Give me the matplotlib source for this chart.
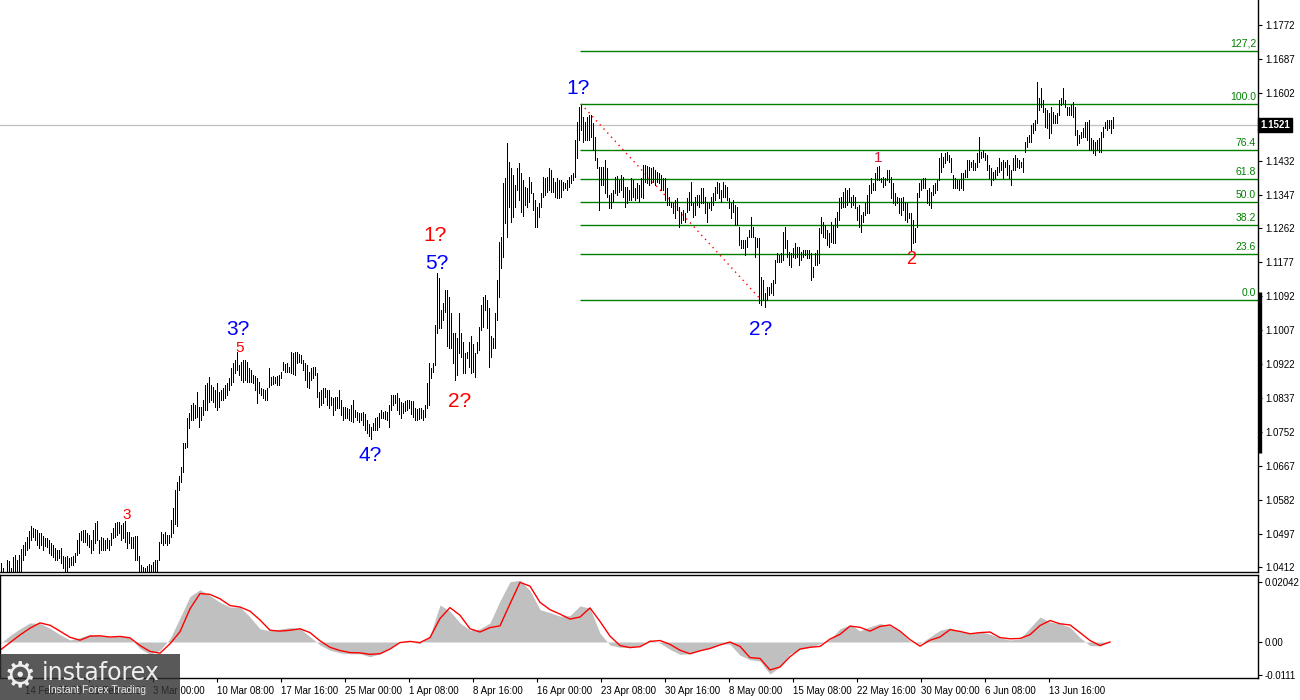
import matplotlib
matplotlib.use('Agg')
import matplotlib.pyplot as plt
import numpy as np

plt.rcParams['font.family'] = ['Liberation Sans', 'DejaVu Sans']

# EURUSD H4 bars, high / low in pips (1e-4)
hi_feb = [10424, 10411, 10401, 10431, 10429, 10411, 10438, 10443, 10431, 10443,
          10458, 10468, 10476, 10488, 10503, 10516, 10511, 10508, 10506, 10498,
          10498, 10491, 10486, 10486, 10481, 10473, 10468, 10461, 10456, 10456,
          10461, 10441, 10438, 10441, 10436, 10438, 10441, 10448, 10481, 10498,
          10503, 10506, 10506, 10498, 10493, 10481, 10506, 10523, 10528, 10481,
          10488, 10486, 10481, 10486, 10481, 10498, 10511, 10523, 10526, 10526,
          10518, 10523, 10528, 10501, 10501, 10488, 10488, 10491, 10491, 10441,
          10418, 10413, 10411, 10416, 10421, 10418, 10426, 10431, 10431, 10476,
          10501, 10496, 10501, 10493, 10493, 10531, 10561, 10607, 10627, 10640,
          10665, 10725, 10725, 10787, 10800, 10820, 10825, 10820, 10852, 10815,
          10815, 10832, 10870, 10875, 10890, 10870, 10865, 10857, 10875, 10852,
          10857, 10862, 10870, 10875, 10887, 10912, 10925, 10932, 10951]
lo_feb = [10368, 10356, 10351, 10394, 10386, 10381, 10394, 10401, 10394, 10381,
          10394, 10431, 10443, 10456, 10461, 10481, 10488, 10481, 10468, 10461,
          10468, 10456, 10466, 10463, 10448, 10443, 10438, 10431, 10431, 10436,
          10424, 10411, 10401, 10394, 10413, 10418, 10418, 10426, 10443, 10448,
          10481, 10476, 10476, 10468, 10463, 10448, 10456, 10473, 10481, 10448,
          10456, 10456, 10456, 10461, 10456, 10468, 10486, 10488, 10493, 10498,
          10481, 10486, 10476, 10461, 10473, 10461, 10461, 10431, 10431, 10394,
          10381, 10368, 10368, 10381, 10381, 10381, 10394, 10401, 10401, 10431,
          10473, 10468, 10473, 10468, 10473, 10488, 10498, 10521, 10516, 10607,
          10625, 10650, 10712, 10715, 10762, 10782, 10782, 10787, 10790, 10764,
          10782, 10795, 10807, 10807, 10827, 10832, 10827, 10815, 10807, 10815,
          10832, 10832, 10837, 10845, 10857, 10870, 10877, 10900, 10908]

hi_mar = [10920, 10927, 10932, 10932, 10927, 10912, 10907, 10895, 10892, 10887,
          10877, 10862, 10860, 10857, 10862, 10912, 10890, 10892, 10890, 10892,
          10895, 10902, 10927, 10922, 10925, 10915, 10953, 10950, 10953, 10953,
          10948, 10945, 10932, 10925, 10920, 10902, 10912, 10915, 10915, 10900,
          10852, 10857, 10862, 10862, 10857, 10857, 10840, 10837, 10840, 10840,
          10857, 10832, 10815, 10815, 10812, 10810, 10820, 10832, 10807, 10802,
          10800, 10800, 10802, 10797, 10782, 10772, 10765, 10775, 10787, 10790,
          10800, 10807, 10802, 10805, 10802, 10820, 10845, 10845, 10845, 10850,
          10837, 10827, 10825, 10830, 10832, 10832, 10830, 10830, 10812, 10810,
          10812, 10812, 10807, 10820]
lo_mar = [10895, 10882, 10877, 10882, 10877, 10877, 10877, 10875, 10857, 10825,
          10850, 10845, 10837, 10832, 10832, 10865, 10870, 10872, 10875, 10870,
          10870, 10887, 10907, 10902, 10902, 10902, 10900, 10897, 10895, 10925,
          10927, 10925, 10907, 10882, 10865, 10862, 10882, 10887, 10895, 10840,
          10815, 10820, 10825, 10840, 10820, 10812, 10820, 10795, 10807, 10812,
          10812, 10795, 10782, 10787, 10787, 10782, 10780, 10777, 10790, 10782,
          10777, 10782, 10770, 10757, 10750, 10742, 10735, 10757, 10757, 10757,
          10765, 10787, 10787, 10785, 10782, 10765, 10807, 10820, 10825, 10807,
          10797, 10787, 10800, 10805, 10807, 10812, 10797, 10790, 10782, 10782,
          10785, 10787, 10782, 10790]

hi_apr = [10875, 10925, 10912, 10925, 11020, 11150, 11138, 11058, 11075, 11108,
          11108, 11090, 11050, 11000, 11000, 10988, 11050, 11000, 10976, 10950,
          10953, 10978, 10991, 10971, 10950, 10976, 11016, 11071, 11090, 11095,
          11083, 11063, 10991, 10988, 11050, 11133, 11228, 11240, 11376, 11389,
          11477, 11429, 11414, 11396, 11371, 11414, 11426, 11401, 11384, 11366,
          11364, 11391, 11379, 11351, 11334, 11316, 11326, 11351, 11391, 11389,
          11391, 11414, 11409, 11389, 11379, 11389, 11384, 11384, 11379, 11376,
          11384, 11391, 11396, 11401, 11484, 11529, 11566, 11571]
lo_apr = [10812, 10820, 10887, 10902, 10920, 11000, 11013, 11013, 11033, 11053,
          10966, 10963, 10963, 10925, 10882, 10895, 10950, 10940, 10900, 10900,
          10937, 10915, 10900, 10902, 10890, 10950, 10958, 11008, 11016, 11058,
          11013, 10915, 10940, 10963, 10963, 11033, 11090, 11163, 11190, 11276,
          11240, 11316, 11278, 11290, 11316, 11359, 11334, 11302, 11293, 11321,
          11316, 11329, 11351, 11309, 11266, 11266, 11290, 11316, 11341, 11346,
          11354, 11359, 11354, 11354, 11341, 11339, 11339, 11341, 11359, 11364,
          11359, 11366, 11376, 11384, 11391, 11439, 11484, 11509]

hi_may = [11542, 11529, 11542, 11547, 11547, 11526, 11491, 11439, 11416, 11416,
          11416, 11434, 11414, 11346, 11351, 11359, 11391, 11394, 11384, 11396,
          11391, 11366, 11366, 11359, 11389, 11384, 11364, 11376, 11371, 11389,
          11421, 11421, 11419, 11416, 11414, 11416, 11409, 11404, 11401, 11396,
          11389, 11389, 11364, 11341, 11329, 11326, 11334, 11339, 11316, 11304,
          11309, 11301, 11339, 11354, 11379, 11326, 11341, 11346, 11346, 11364,
          11364, 11341, 11329, 11326, 11341, 11351, 11366, 11379, 11376, 11359,
          11379, 11371, 11366, 11339, 11326, 11334, 11321, 11316, 11266, 11233,
          11233, 11233, 11241, 11258, 11290, 11266, 11241, 11238, 11238, 11141,
          11133, 11101, 11116, 11116, 11126, 11133, 11183, 11201, 11196, 11201,
          11253, 11266, 11233, 11203, 11201, 11213, 11226, 11216, 11216, 11203,
          11208, 11208, 11208, 11208, 11201, 11166, 11201, 11208, 11263, 11290,
          11278, 11271, 11258, 11250, 11278, 11271, 11288, 11304, 11339, 11341,
          11354, 11364, 11359, 11364, 11341, 11346, 11341, 11316, 11321, 11296,
          11304, 11326, 11346, 11371, 11389, 11376, 11401, 11416, 11419, 11389]
lo_may = [11479, 11484, 11484, 11484, 11491, 11459, 11434, 11414, 11309, 11371,
          11371, 11351, 11341, 11314, 11314, 11329, 11351, 11346, 11354, 11359,
          11341, 11316, 11326, 11334, 11334, 11341, 11334, 11339, 11329, 11341,
          11339, 11379, 11376, 11371, 11376, 11379, 11371, 11379, 11376, 11359,
          11359, 11334, 11321, 11321, 11316, 11301, 11288, 11309, 11266, 11276,
          11283, 11278, 11304, 11309, 11321, 11290, 11295, 11321, 11316, 11326,
          11326, 11301, 11278, 11314, 11309, 11321, 11334, 11351, 11339, 11329,
          11341, 11341, 11334, 11314, 11288, 11304, 11271, 11271, 11221, 11213,
          11213, 11196, 11216, 11241, 11241, 11241, 11191, 11216, 11076, 11071,
          11083, 11066, 11083, 11096, 11101, 11096, 11126, 11178, 11178, 11178,
          11183, 11213, 11191, 11171, 11166, 11191, 11188, 11191, 11171, 11183,
          11191, 11196, 11188, 11188, 11133, 11141, 11171, 11171, 11176, 11250,
          11241, 11238, 11221, 11216, 11228, 11226, 11226, 11266, 11283, 11314,
          11316, 11316, 11321, 11329, 11316, 11321, 11314, 11283, 11266, 11253,
          11278, 11296, 11301, 11301, 11351, 11359, 11359, 11384, 11384, 11379]

hi_jun = [11391, 11389, 11409, 11409, 11391, 11376, 11351, 11341, 11339, 11339,
          11341, 11329, 11326, 11301, 11301, 11283, 11263, 11351, 11376, 11384,
          11389, 11389, 11359, 11364, 11354, 11371, 11376, 11384, 11439, 11451,
          11441, 11451, 11454, 11446, 11439, 11396, 11389, 11384, 11384, 11401,
          11401, 11409, 11434, 11434, 11429, 11434, 11426, 11451, 11491, 11454,
          11459, 11451, 11446, 11421, 11414, 11404, 11409, 11416, 11439, 11429,
          11434, 11429, 11434, 11421, 11409, 11439, 11446, 11439, 11434, 11429,
          11439, 11479, 11491, 11496, 11521, 11526, 11534, 11629, 11589, 11614,
          11584, 11564, 11559, 11551, 11566, 11554, 11546, 11551, 11584, 11589,
          11614, 11584, 11566, 11566, 11571, 11579, 11566, 11509, 11496, 11504,
          11514, 11529, 11529, 11534, 11489, 11484, 11479, 11484, 11489, 11504,
          11516, 11529, 11534, 11534, 11534, 11541]
lo_jun = [11366, 11371, 11384, 11379, 11339, 11326, 11321, 11326, 11301, 11296,
          11309, 11283, 11278, 11288, 11208, 11226, 11228, 11266, 11341, 11359,
          11364, 11364, 11326, 11321, 11314, 11346, 11351, 11359, 11384, 11404,
          11416, 11426, 11434, 11429, 11404, 11364, 11364, 11364, 11359, 11364,
          11359, 11391, 11391, 11409, 11416, 11409, 11409, 11416, 11429, 11439,
          11441, 11434, 11409, 11389, 11371, 11384, 11389, 11396, 11404, 11409,
          11389, 11416, 11396, 11389, 11371, 11409, 11409, 11416, 11414, 11416,
          11404, 11454, 11466, 11479, 11479, 11501, 11509, 11526, 11559, 11566,
          11554, 11516, 11514, 11489, 11501, 11526, 11526, 11526, 11546, 11571,
          11576, 11566, 11546, 11546, 11546, 11541, 11496, 11471, 11476, 11489,
          11491, 11491, 11484, 11459, 11459, 11451, 11446, 11459, 11454, 11454,
          11491, 11514, 11509, 11514, 11501, 11514]

last_price = 1.1521

# MACD main (histogram) and signal, one value every 5 bars, in 1e-4
macd_hist = [-6, 22, 45, 65, 63, 47, 25, 7, 15, 26,
             22, 17, 23, 14, -22, -42, -28, 11, 82, 155,
             178, 158, 135, 119, 119, 85, 45, 38, 44, 49,
             46, 18, -10, -28, -37, -40, -40, -50, -40, -20,
             2, 1, -6, 22, 126, 105, 65, 40, 45, 65,
             140, 205, 210, 175, 110, 100, 88, 90, 123, 115,
             30, -10, -18, -19, -12, 8, -4, -25, -42, -40,
             -28, -22, -5, -8, -45, -60, -65, -109, -85, -40,
             -25, -18, -6, 8, 45, 59, 38, 52, 63, 55,
             35, 2, -5, 17, 40, 48, 35, 28, 35, 27,
             14, 7, 10, 48, 85, 68, 62, 50, 15, -12,
             -14, 3]
macd_signal = [-28, -2, 24, 47, 65, 57, 37, 16, 6, 20,
               21, 17, 19, 14, -12, -32, -38, -6, 35, 113,
               165, 162, 147, 124, 119, 105, 75, 40, 37, 40,
               45, 32, 4, -18, -29, -36, -37, -42, -40, -24,
               -2, 2, -2, 15, 80, 117, 91, 45, 34, 49,
               55, 130, 203, 190, 135, 110, 95, 78, 85, 116,
               70, 20, -12, -19, -16, 2, 5, -8, -28, -40,
               -30, -22, -10, 0, -15, -53, -56, -95, -85, -50,
               -24, -18, -15, 10, 26, 54, 50, 37, 53, 58,
               37, 8, -14, 6, 17, 42, 36, 28, 32, 34,
               15, 11, 12, 25, 56, 73, 62, 58, 32, 5,
               -12, 0]

# fibonacci grid from wave 1? top to wave 2? bottom
fib_hi, fib_lo = 1.1574, 1.1083
fib_from_bar, fib_to_bar = 290, 380
fib_levels = [0.0, 23.6, 38.2, 50.0, 61.8, 76.4, 100.0, 127.2]
fib_names = ['0.0', '23.6', '38.2', '50.0', '61.8', '76.4', '100.0', '127,2']

# wave marks: bar, price, text, colour, size
waves = [(288.5, 1.1612, '1?', '#0000ff', 15),
         (380, 1.1008, '2?', '#0000ff', 15),
         (118.5, 1.1008, '3?', '#0000ff', 15),
         (184.5, 1.0692, '4?', '#0000ff', 15),
         (218, 1.1173, '5?', '#0000ff', 15),
         (217, 1.1243, '1?', '#ff0000', 15),
         (229.5, 1.0827, '2?', '#ff0000', 15),
         (438.5, 1.1439, '1', '#dc143c', 11),
         (455, 1.1183, '2', '#ff0000', 13),
         (63, 1.0544, '3', '#ff0000', 11),
         (119.5, 1.0963, '5', '#ff0000', 11)]

time_labels = ['7 Feb 00:00', '14 Feb 08:00', '21 Feb 16:00', '3 Mar 00:00',
               '10 Mar 08:00', '17 Mar 16:00', '25 Mar 00:00', '1 Apr 08:00',
               '8 Apr 16:00', '16 Apr 00:00', '23 Apr 08:00', '30 Apr 16:00',
               '8 May 00:00', '15 May 08:00', '22 May 16:00', '30 May 00:00',
               '6 Jun 08:00', '13 Jun 16:00']
first_label_bar = -20
label_every = 32

price_ticks = [1.0412, 1.0497, 1.0582, 1.0667, 1.0752, 1.0837, 1.0922, 1.1007,
               1.1092, 1.1177, 1.1262, 1.1347, 1.1432, 1.1602, 1.1687, 1.1772]

highs = np.concatenate([hi_feb, hi_mar, hi_apr, hi_may, hi_jun]) / 10000.0
lows = np.concatenate([lo_feb, lo_mar, lo_apr, lo_may, lo_jun]) / 10000.0
bars = np.arange(len(highs))
hist = np.array(macd_hist) / 10000.0
signal = np.array(macd_signal) / 10000.0
macd_x = np.arange(len(hist)) * 5 - 0.5

W, H = 1300, 700
fig = plt.figure(figsize=(13, 7), dpi=100)
ax = fig.add_axes([0, 128 / H, 1258 / W, 572 / H])
axm = fig.add_axes([0, 22 / H, 1258 / W, 103 / H])
xmin, xmax = -0.5, 628.5

# ---- price pane
ax.axhline(last_price, color='#c0c0c0', lw=0.9, zorder=1)

span = fib_hi - fib_lo
for lev, name in zip(fib_levels, fib_names):
    y = fib_lo + span * lev / 100.0
    ax.hlines(y, fib_from_bar - 0.5, xmax, color='#008000', lw=1.0, zorder=2)
    ax.text(xmax - 1, y + 0.0005, name, color='#008000', fontsize=7.5,
            ha='right', va='bottom', zorder=3)
ax.plot([fib_from_bar, fib_to_bar], [fib_hi, fib_lo], color='red',
        lw=1.0, ls=(0, (1, 3)), zorder=3)

ax.vlines(bars, lows, highs, color='black', lw=0.55, antialiased=False, zorder=4)

for b, p, t, c, s in waves:
    ax.text(b, p, t, color=c, fontsize=s, ha='center', va='center', zorder=5)

for side in ['top', 'left']:
    ax.spines[side].set_visible(False)
for side in ['right', 'bottom']:
    ax.spines[side].set_linewidth(1.0)
ax.set_xticks([])
ax.yaxis.tick_right()
ax.set_yticks(price_ticks)
ax.set_yticklabels(['%.4f' % v for v in price_ticks])
ax.tick_params(axis='y', direction='out', length=3, width=0.8, pad=2,
               labelsize=7, colors='black')
ax.set_xlim(xmin, xmax)
ax.set_ylim(1.04005, 1.18347)

ytr = ax.get_yaxis_transform()
ax.plot([1.0015, 1.0015], [1.1103, 1.0700], color='black', lw=2.4,
        transform=ytr, clip_on=False, solid_capstyle='butt')
ax.text(1.0018, last_price, '1.1521', transform=ytr, color='white',
        fontsize=7, fontweight='bold', ha='left', va='center',
        bbox=dict(facecolor='black', edgecolor='black', pad=1.5), zorder=6)

# ---- MACD pane
axm.fill_between(macd_x, 0, hist, color='#c0c0c0', lw=0, zorder=1)
axm.plot(macd_x, signal, color='red', lw=1.0, zorder=2)
for side in axm.spines:
    axm.spines[side].set_linewidth(1.0)
axm.yaxis.tick_right()
axm.set_yticks([0.02042, 0.0, -0.0111])
axm.set_yticklabels(['0.02042', '0.00', '-0.0111'])
axm.tick_params(axis='y', direction='out', length=3, width=0.8, pad=2,
                labelsize=7)
tick_bars = first_label_bar + label_every * np.arange(len(time_labels))
axm.set_xticks(tick_bars)
axm.set_xticklabels(time_labels, ha='left')
axm.tick_params(axis='x', direction='out', length=3, width=0.8, pad=3,
                labelsize=7)
axm.set_xlim(xmin, xmax)
axm.set_ylim(-0.01225, 0.0228)

# ---- watermark
fig.patches.append(plt.Rectangle((0, 0), 180 / W, 46 / H, transform=fig.transFigure,
                                 facecolor='#303030', alpha=0.8, edgecolor='none',
                                 zorder=10))
fig.text(20 / W, 24 / H, '\u2699', color='white', fontsize=26,
         ha='center', va='center', family='DejaVu Sans', zorder=11, alpha=0.9)
fig.text(42 / W, 27 / H, 'instaforex', color='white', fontsize=17,
         ha='left', va='center', family='DejaVu Sans', zorder=11, alpha=0.9)
fig.text(48 / W, 10 / H, 'Instant Forex Trading', color='white', fontsize=7.5,
         ha='left', va='center', zorder=11, alpha=0.9)

fig.savefig('out.png', dpi=100)
